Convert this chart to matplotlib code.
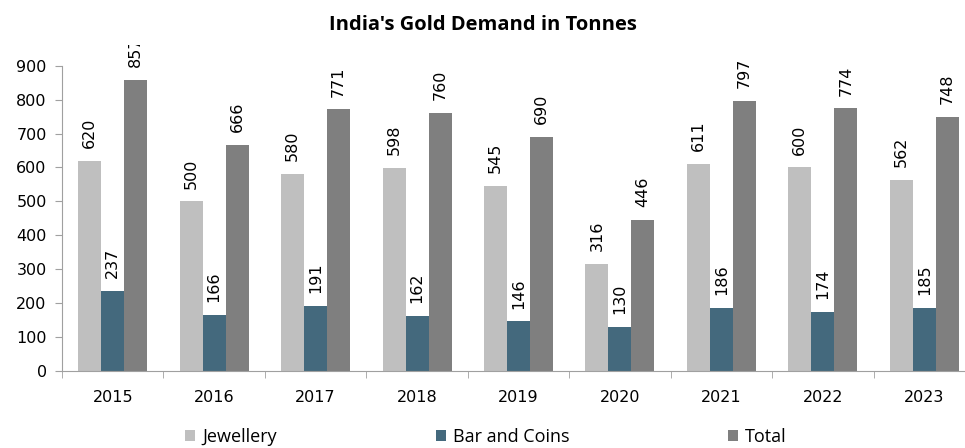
import matplotlib
matplotlib.use("Agg")
import matplotlib.pyplot as plt
import numpy as np

years = ["2015", "2016", "2017", "2018", "2019", "2020", "2021", "2022", "2023"]
jewellery = [620, 500, 580, 598, 545, 316, 611, 600, 562]
bar_coins = [237, 166, 191, 162, 146, 130, 186, 174, 185]
total = [857, 666, 771, 760, 690, 446, 797, 774, 748]
series_names = ["Jewellery", "Bar and Coins", "Total"]
colors = ["#BFBFBF", "#44697D", "#7F7F7F"]

fig = plt.figure(figsize=(9.65, 4.48), dpi=100)
W, H = 965, 448
left, right = 62, 975
top, bottom = 45, 371
ax = fig.add_axes([left / W, 1 - bottom / H, (right - left) / W, (bottom - top) / H])

x = np.arange(len(years))
bw = 0.227
data = [jewellery, bar_coins, total]
for i, (vals, name, c) in enumerate(zip(data, series_names, colors)):
    pos = x + (i - 1) * bw
    ax.bar(pos, vals, width=bw, color=c, label=name, zorder=2)
    for px, v in zip(pos, vals):
        ax.text(px, v + 38, str(v), rotation=90, ha="center", va="bottom",
                fontsize=11.5, color="#000000", family="DejaVu Sans", clip_on=True)

ax.set_xlim(-0.5, len(years) - 0.5)
ax.set_ylim(0, (bottom - top) / 0.3392)
ax.set_yticks(range(0, 1000, 100))
ax.set_xticks(x)
ax.set_xticklabels(years, fontsize=11.5, family="DejaVu Sans")
ax.set_xticks(np.arange(-0.5, len(years) + 0.5, 1), minor=True)
ax.tick_params(axis="x", which="major", length=0, pad=14)
ax.tick_params(axis="x", which="minor", length=5, color="#A0A0A0", direction="out")
ax.tick_params(axis="y", length=5, color="#A0A0A0", labelsize=11.5, pad=6)
for lab in ax.get_yticklabels():
    lab.set_family("DejaVu Sans")

for s in ["top", "right"]:
    ax.spines[s].set_visible(False)
ax.spines["left"].set_bounds(0, 900)
ax.spines["left"].set_color("#A0A0A0")
ax.spines["bottom"].set_color("#A0A0A0")

fig.text(0.5, 1 - 25 / H, "India's Gold Demand in Tonnes", ha="center", va="center",
         fontsize=14.5, fontweight="bold", family="Open Sans")

fig.legend(loc="center left", bbox_to_anchor=(185 / W, 1 - 437 / H), ncol=3,
           frameon=False, handlelength=0.55, handleheight=0.55, borderpad=0, borderaxespad=0,
           handletextpad=0.4, columnspacing=8.8,
           prop={"family": "Open Sans", "size": 13})

fig.savefig("out.png", dpi=100)
